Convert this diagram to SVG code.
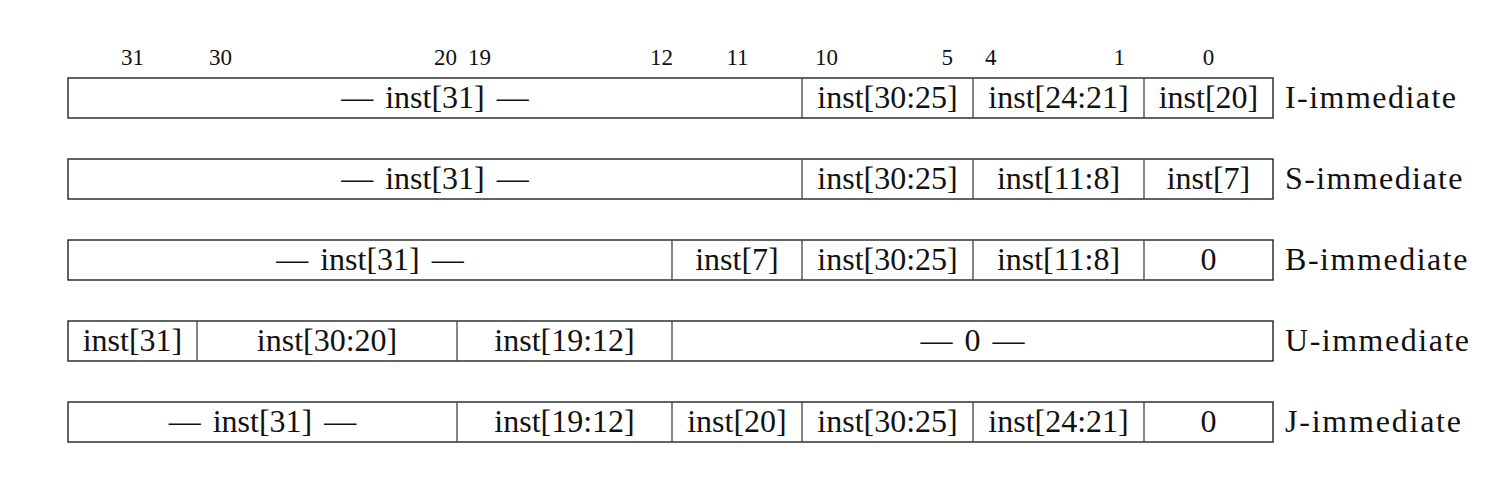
<svg xmlns="http://www.w3.org/2000/svg" width="1488" height="480" viewBox="0 0 1488 480">
<style>
.box{fill:#fff;stroke:#222;stroke-width:1.4}
.div{stroke:#444;stroke-width:1.3}
.t{font-family:"Liberation Serif","Times New Roman",serif;font-size:32px;fill:#111;text-anchor:middle;word-spacing:4px}
.lbl{font-family:"Liberation Serif","Times New Roman",serif;font-size:32px;fill:#111}
.h{font-family:"Liberation Serif","Times New Roman",serif;font-size:23px;fill:#111}
</style>
<rect width="1488" height="480" fill="#fff"/>
<g id="header">
<text class="h" x="132.5" y="65" text-anchor="middle">31</text>
<text class="h" x="209" y="65">30</text>
<text class="h" x="457" y="65" text-anchor="end">20</text>
<text class="h" x="468" y="65">19</text>
<text class="h" x="673" y="65" text-anchor="end">12</text>
<text class="h" x="737.5" y="65" text-anchor="middle">11</text>
<text class="h" x="815" y="65">10</text>
<text class="h" x="953" y="65" text-anchor="end">5</text>
<text class="h" x="985" y="65">4</text>
<text class="h" x="1125" y="65" text-anchor="end">1</text>
<text class="h" x="1208.5" y="65" text-anchor="middle">0</text>
</g>
<g id="i-imm">
<rect class="box" x="68" y="78" width="1205" height="40"/>
<line class="div" x1="802" y1="78" x2="802" y2="118"/>
<line class="div" x1="973" y1="78" x2="973" y2="118"/>
<line class="div" x1="1144" y1="78" x2="1144" y2="118"/>
<text class="t" x="435" y="107.5">— inst[31] —</text>
<text class="t" x="887.5" y="107.5">inst[30:25]</text>
<text class="t" x="1058.5" y="107.5">inst[24:21]</text>
<text class="t" x="1208.5" y="107.5">inst[20]</text>
<text class="lbl" x="1285" y="107.5" textLength="171" lengthAdjust="spacing">I-immediate</text>
</g>
<g id="s-imm">
<rect class="box" x="68" y="159" width="1205" height="40"/>
<line class="div" x1="802" y1="159" x2="802" y2="199"/>
<line class="div" x1="973" y1="159" x2="973" y2="199"/>
<line class="div" x1="1144" y1="159" x2="1144" y2="199"/>
<text class="t" x="435" y="188.5">— inst[31] —</text>
<text class="t" x="887.5" y="188.5">inst[30:25]</text>
<text class="t" x="1058.5" y="188.5">inst[11:8]</text>
<text class="t" x="1208.5" y="188.5">inst[7]</text>
<text class="lbl" x="1285" y="188.5" textLength="177.5" lengthAdjust="spacing">S-immediate</text>
</g>
<g id="b-imm">
<rect class="box" x="68" y="240" width="1205" height="40"/>
<line class="div" x1="672" y1="240" x2="672" y2="280"/>
<line class="div" x1="802" y1="240" x2="802" y2="280"/>
<line class="div" x1="973" y1="240" x2="973" y2="280"/>
<line class="div" x1="1144" y1="240" x2="1144" y2="280"/>
<text class="t" x="370" y="269.5">— inst[31] —</text>
<text class="t" x="737" y="269.5">inst[7]</text>
<text class="t" x="887.5" y="269.5">inst[30:25]</text>
<text class="t" x="1058.5" y="269.5">inst[11:8]</text>
<text class="t" x="1208.5" y="269.5">0</text>
<text class="lbl" x="1285" y="269.5" textLength="182.5" lengthAdjust="spacing">B-immediate</text>
</g>
<g id="u-imm">
<rect class="box" x="68" y="321" width="1205" height="40"/>
<line class="div" x1="197" y1="321" x2="197" y2="361"/>
<line class="div" x1="457" y1="321" x2="457" y2="361"/>
<line class="div" x1="672" y1="321" x2="672" y2="361"/>
<text class="t" x="132.5" y="350.5">inst[31]</text>
<text class="t" x="327" y="350.5">inst[30:20]</text>
<text class="t" x="564.5" y="350.5">inst[19:12]</text>
<text class="t" x="972.5" y="350.5">— 0 —</text>
<text class="lbl" x="1285" y="350.5" textLength="184" lengthAdjust="spacing">U-immediate</text>
</g>
<g id="j-imm">
<rect class="box" x="68" y="402" width="1205" height="40"/>
<line class="div" x1="457" y1="402" x2="457" y2="442"/>
<line class="div" x1="672" y1="402" x2="672" y2="442"/>
<line class="div" x1="802" y1="402" x2="802" y2="442"/>
<line class="div" x1="973" y1="402" x2="973" y2="442"/>
<line class="div" x1="1144" y1="402" x2="1144" y2="442"/>
<text class="t" x="262.5" y="431.5">— inst[31] —</text>
<text class="t" x="564.5" y="431.5">inst[19:12]</text>
<text class="t" x="737" y="431.5">inst[20]</text>
<text class="t" x="887.5" y="431.5">inst[30:25]</text>
<text class="t" x="1058.5" y="431.5">inst[24:21]</text>
<text class="t" x="1208.5" y="431.5">0</text>
<text class="lbl" x="1285" y="431.5" textLength="176" lengthAdjust="spacing">J-immediate</text>
</g>
<g id="connectors"></g>
</svg>
